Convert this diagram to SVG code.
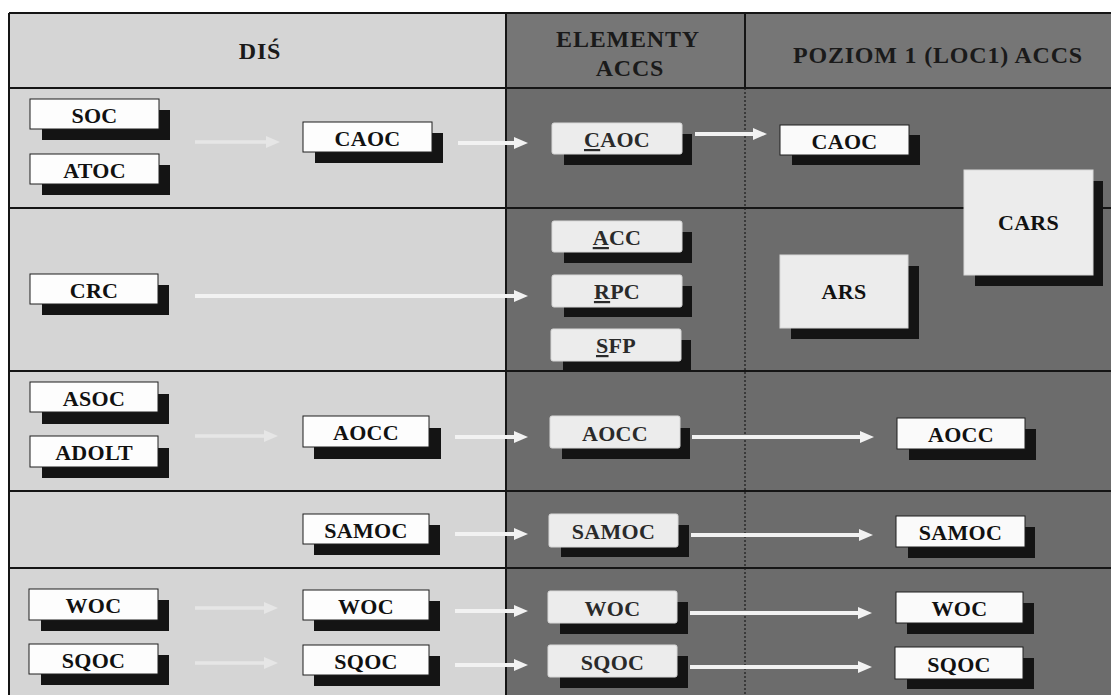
<svg xmlns="http://www.w3.org/2000/svg" width="1111" height="695" viewBox="0 0 1111 695">
<defs>
<style>
.sh{fill:#141414}
.bL{fill:#fdfdfd;stroke:#1e1e1e;stroke-width:1}
.bE{fill:#ececec;stroke:#d8d8d8;stroke-width:1}
.bP{fill:#fafafa;stroke:#1e1e1e;stroke-width:1}
.t{font-family:"Liberation Serif","Times New Roman",serif;font-weight:bold;font-size:22px;text-anchor:middle;letter-spacing:0.3px;fill:#111}
.tE{fill:#2a2a2a}
.h{font-family:"Liberation Serif","Times New Roman",serif;font-weight:bold;font-size:24px;text-anchor:middle;letter-spacing:0.8px;fill:#1a1a1a}
.ar{stroke:#f2f2f2;stroke-width:4;fill:none;marker-end:url(#ah)}
.af{stroke:#e6e6e6;stroke-width:3.5;fill:none;marker-end:url(#ahf)}
.grid{stroke:#151515;stroke-width:2;fill:none}
</style>
<marker id="ah" markerUnits="userSpaceOnUse" viewBox="0 0 14 12" markerWidth="14" markerHeight="12" refX="4" refY="6" orient="auto"><path d="M0,0 L14,6 L0,12 z" fill="#f2f2f2"/></marker>
<marker id="ahf" markerUnits="userSpaceOnUse" viewBox="0 0 14 12" markerWidth="14" markerHeight="12" refX="4" refY="6" orient="auto"><path d="M0,0 L14,6 L0,12 z" fill="#e6e6e6"/></marker>
</defs>
<rect width="1111" height="695" fill="#ffffff"/>
<g id="background">
<rect x="9" y="13" width="496" height="682" fill="#d5d5d5"/>
<rect x="505" y="13" width="606" height="75" fill="#767676"/>
<rect x="505" y="88" width="606" height="607" fill="#6c6c6c"/>
<path class="grid" d="M9,13 H1111 M9,88 H1111 M9,208 H1111 M9,371 H1111 M9,491 H1111 M9,568 H1111 M9,13 V695 M506,13 V695 M745,13 V88"/>
<path d="M745,88 V695" stroke="#1a1a1a" stroke-width="1.2" stroke-dasharray="2,2" fill="none"/>
</g>
<g id="headers">
<text class="h" x="260" y="59">DIŚ</text>
<text class="h" x="628" y="47">ELEMENTY</text>
<text class="h" x="630" y="76">ACCS</text>
<text class="h" x="938" y="63">POZIOM 1 (LOC1) ACCS</text>
</g>
<g id="connectors">
<line class="af" x1="195" y1="142" x2="270" y2="142"/>
<line class="ar" x1="458" y1="143" x2="518" y2="143"/>
<line class="ar" x1="695" y1="134" x2="757" y2="134"/>
<line class="ar" x1="195" y1="296" x2="518" y2="296"/>
<line class="af" x1="195" y1="436" x2="268" y2="436"/>
<line class="ar" x1="455" y1="437" x2="518" y2="437"/>
<line class="ar" x1="692" y1="437" x2="864" y2="437"/>
<line class="ar" x1="455" y1="534" x2="518" y2="534"/>
<line class="ar" x1="691" y1="535" x2="863" y2="535"/>
<line class="af" x1="195" y1="608" x2="268" y2="608"/>
<line class="af" x1="195" y1="663" x2="268" y2="663"/>
<line class="ar" x1="455" y1="611" x2="518" y2="611"/>
<line class="ar" x1="455" y1="665" x2="518" y2="665"/>
<line class="ar" x1="690" y1="613" x2="862" y2="613"/>
<line class="ar" x1="690" y1="667" x2="862" y2="667"/>
</g>
<g id="n-soc"><rect class="sh" x="42" y="110" width="128" height="30"/><rect class="bL" x="30" y="99" width="129" height="30"/><text class="t" x="94.5" y="122.5">SOC</text></g>
<g id="n-atoc"><rect class="sh" x="42" y="165" width="128" height="30"/><rect class="bL" x="30" y="154" width="129" height="30"/><text class="t" x="94.5" y="177.5">ATOC</text></g>
<g id="n-caoc-dis"><rect class="sh" x="315" y="133" width="128" height="30"/><rect class="bL" x="303" y="122" width="129" height="30"/><text class="t" x="367.5" y="145.5">CAOC</text></g>
<g id="n-caoc-el"><rect class="sh" x="564" y="134" width="128" height="31"/><rect class="bE" x="552" y="123" width="130" height="31" rx="2"/><text class="t tE" x="617" y="147"><tspan text-decoration="underline">C</tspan>AOC</text></g>
<g id="n-caoc-p"><rect class="sh" x="792" y="135" width="128" height="30"/><rect class="bP" x="780" y="125" width="129" height="30"/><text class="t" x="844.5" y="148.5">CAOC</text></g>
<g id="n-cars"><rect class="sh" x="975" y="181" width="128" height="105"/><rect class="bE" x="964" y="170" width="129" height="105"/><text class="t" x="1028.5" y="230">CARS</text></g>
<g id="n-crc"><rect class="sh" x="42" y="285" width="127" height="30"/><rect class="bL" x="30" y="274" width="128" height="30"/><text class="t" x="94" y="297.5">CRC</text></g>
<g id="n-acc"><rect class="sh" x="564" y="232" width="128" height="31"/><rect class="bE" x="552" y="221" width="130" height="31" rx="2"/><text class="t tE" x="617" y="245"><tspan text-decoration="underline">A</tspan>CC</text></g>
<g id="n-rpc"><rect class="sh" x="564" y="286" width="128" height="31"/><rect class="bE" x="552" y="275" width="130" height="32" rx="2"/><text class="t tE" x="617" y="299"><tspan text-decoration="underline">R</tspan>PC</text></g>
<g id="n-sfp"><rect class="sh" x="563" y="340" width="128" height="31"/><rect class="bE" x="551" y="329" width="130" height="32" rx="2"/><text class="t tE" x="616" y="353"><tspan text-decoration="underline">S</tspan>FP</text></g>
<g id="n-ars"><rect class="sh" x="791" y="266" width="128" height="73"/><rect class="bE" x="780" y="255" width="128" height="73"/><text class="t" x="844" y="299">ARS</text></g>
<g id="n-asoc"><rect class="sh" x="42" y="394" width="127" height="30"/><rect class="bL" x="30" y="382" width="128" height="30"/><text class="t" x="94" y="405.5">ASOC</text></g>
<g id="n-adolt"><rect class="sh" x="42" y="448" width="127" height="30"/><rect class="bL" x="30" y="436" width="128" height="31"/><text class="t" x="94" y="460">ADOLT</text></g>
<g id="n-aocc-dis"><rect class="sh" x="314" y="428" width="127" height="31"/><rect class="bL" x="303" y="416" width="126" height="31"/><text class="t" x="366" y="440">AOCC</text></g>
<g id="n-aocc-el"><rect class="sh" x="562" y="428" width="128" height="31"/><rect class="bE" x="550" y="416" width="130" height="32" rx="2"/><text class="t tE" x="615" y="440.5">AOCC</text></g>
<g id="n-aocc-p"><rect class="sh" x="909" y="429" width="127" height="31"/><rect class="bP" x="897" y="418" width="128" height="31"/><text class="t" x="961" y="442">AOCC</text></g>
<g id="n-samoc-dis"><rect class="sh" x="314" y="525" width="126" height="30"/><rect class="bL" x="303" y="514" width="126" height="30"/><text class="t" x="366" y="537.5">SAMOC</text></g>
<g id="n-samoc-el"><rect class="sh" x="561" y="525" width="128" height="32"/><rect class="bE" x="549" y="514" width="129" height="33" rx="2"/><text class="t tE" x="613.5" y="538.5">SAMOC</text></g>
<g id="n-samoc-p"><rect class="sh" x="908" y="527" width="127" height="31"/><rect class="bP" x="896" y="516" width="129" height="31"/><text class="t" x="960.5" y="540">SAMOC</text></g>
<g id="n-woc-dis"><rect class="sh" x="41" y="600" width="128" height="31"/><rect class="bL" x="29" y="589" width="129" height="31"/><text class="t" x="93.5" y="613">WOC</text></g>
<g id="n-sqoc-dis"><rect class="sh" x="41" y="655" width="128" height="30"/><rect class="bL" x="29" y="644" width="129" height="30"/><text class="t" x="93.5" y="667.5">SQOC</text></g>
<g id="n-woc-mid"><rect class="sh" x="314" y="601" width="126" height="30"/><rect class="bL" x="303" y="590" width="126" height="30"/><text class="t" x="366" y="613.5">WOC</text></g>
<g id="n-sqoc-mid"><rect class="sh" x="314" y="656" width="126" height="30"/><rect class="bL" x="303" y="645" width="126" height="30"/><text class="t" x="366" y="668.5">SQOC</text></g>
<g id="n-woc-el"><rect class="sh" x="560" y="602" width="128" height="32"/><rect class="bE" x="548" y="591" width="129" height="32" rx="2"/><text class="t tE" x="612.5" y="615.5">WOC</text></g>
<g id="n-sqoc-el"><rect class="sh" x="560" y="656" width="128" height="32"/><rect class="bE" x="548" y="645" width="129" height="32" rx="2"/><text class="t tE" x="612.5" y="669.5">SQOC</text></g>
<g id="n-woc-p"><rect class="sh" x="907" y="603" width="127" height="31"/><rect class="bP" x="896" y="592" width="127" height="31"/><text class="t" x="959.5" y="616">WOC</text></g>
<g id="n-sqoc-p"><rect class="sh" x="907" y="658" width="127" height="31"/><rect class="bP" x="895" y="647" width="128" height="32"/><text class="t" x="959" y="671.5">SQOC</text></g>
</svg>
